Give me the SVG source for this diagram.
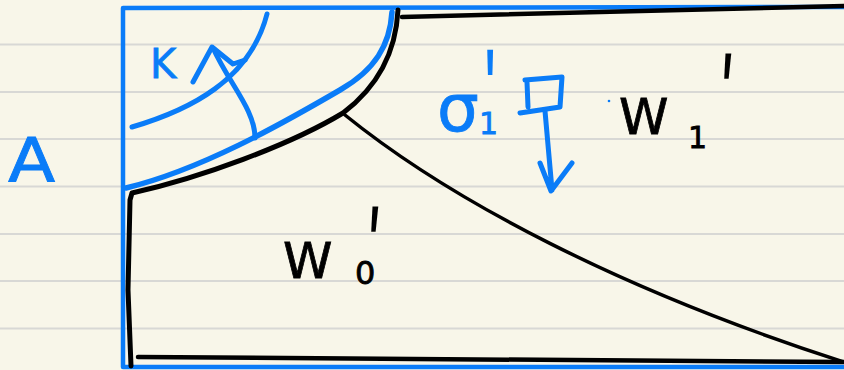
<svg xmlns="http://www.w3.org/2000/svg" width="844" height="370" viewBox="0 0 844 370">
<style>
.rule{stroke:#d8d8d5;stroke-width:2}
.blue{fill:none;stroke:#0a7cf8;stroke-linecap:round;stroke-linejoin:round}
.ink{fill:none;stroke:#000;stroke-linecap:round;stroke-linejoin:round}
.tb{fill:#0a7cf8;stroke:#0a7cf8;stroke-width:0.8;font-family:"DejaVu Sans","Liberation Sans",sans-serif}
.tk{fill:#000;stroke:#000;stroke-width:0.8;font-family:"DejaVu Sans","Liberation Sans",sans-serif}
.pr{font-family:"Liberation Sans",sans-serif;font-size:117px;stroke:none}
</style>
<rect width="844" height="370" fill="#f8f6e9"/>
<g id="ruling">
<line class="rule" x1="0" y1="44.5" x2="844" y2="44.5"/>
<line class="rule" x1="0" y1="92" x2="844" y2="92"/>
<line class="rule" x1="0" y1="139" x2="844" y2="139"/>
<line class="rule" x1="0" y1="186.5" x2="844" y2="186.5"/>
<line class="rule" x1="0" y1="234" x2="844" y2="234"/>
<line class="rule" x1="0" y1="281" x2="844" y2="281"/>
<line class="rule" x1="0" y1="328.5" x2="844" y2="328.5"/>
</g>
<g id="frame">
<path class="blue" stroke-width="4.5" d="M844,7 L123,8 L123,367 L844,367"/>
</g>
<g id="black-lines">
<path class="ink" stroke-width="5" d="M398,10 C396,50 380,85 343,113 C290,145 200,178 132,193 L130,200 L128,290 L131,366"/>
<path class="ink" stroke-width="4.5" d="M402,17 L844,6"/>
<path class="ink" stroke-width="4.5" d="M138,357 L844,362"/>
<path class="ink" stroke-width="3.5" d="M345,115 C450,200 620,290 844,362"/>
</g>
<g id="blue-arc">
<path class="blue" stroke-width="5.5" d="M392,12 C390,45 375,70 340,90 C280,125 200,170 126,188"/>
</g>
<g id="angle-K">
<path class="blue" stroke-width="5" d="M132,127 C190,110 250,80 267,14"/>
<path class="blue" stroke-width="5" d="M255,138 C255,110 230,85 213,48"/>
<path class="blue" stroke-width="5" d="M193,82 L212,47 L233,64 L245,60"/>
<text class="tb" x="150" y="78" font-size="40">K</text>
</g>
<g id="label-A">
<text class="tb" x="8" y="181" font-size="60" transform="translate(8,181) scale(1.15,1) translate(-8,-181)">A</text>
</g>
<g id="sigma">
<text class="tb" x="437" y="131" font-size="66">σ</text>
<text class="tb" x="479" y="134" font-size="30">1</text>
<text class="tb pr" x="484" y="130" transform="translate(484,130) scale(0.55,1) translate(-484,-130)">'</text>
<path class="blue" stroke-width="5" d="M525,80 L562,77 L560,107 L520,113 M527,82 L528,107"/>
<path class="blue" stroke-width="5" d="M545,111 L552,190 M540,163 L551,191 L572,163"/>
<circle cx="609" cy="101" r="1.3" fill="#0a7cf8"/>
<circle cx="625" cy="102" r="1.3" fill="#0a7cf8"/>
</g>
<g id="W1">
<text class="tk" x="619" y="134" font-size="50">W</text>
<text class="tk" x="688" y="148" font-size="30">1</text>
<text class="tk pr" x="716" y="134" transform="translate(716,134) scale(0.55,1) skewX(-8) translate(-716,-134)">'</text>
</g>
<g id="W0">
<text class="tk" x="283" y="278" font-size="50">W</text>
<text class="tk" x="355" y="284" font-size="32">0</text>
<text class="tk pr" x="363" y="287" transform="translate(363,287) scale(0.55,1) skewX(-8) translate(-363,-287)">'</text>
</g>
</svg>
